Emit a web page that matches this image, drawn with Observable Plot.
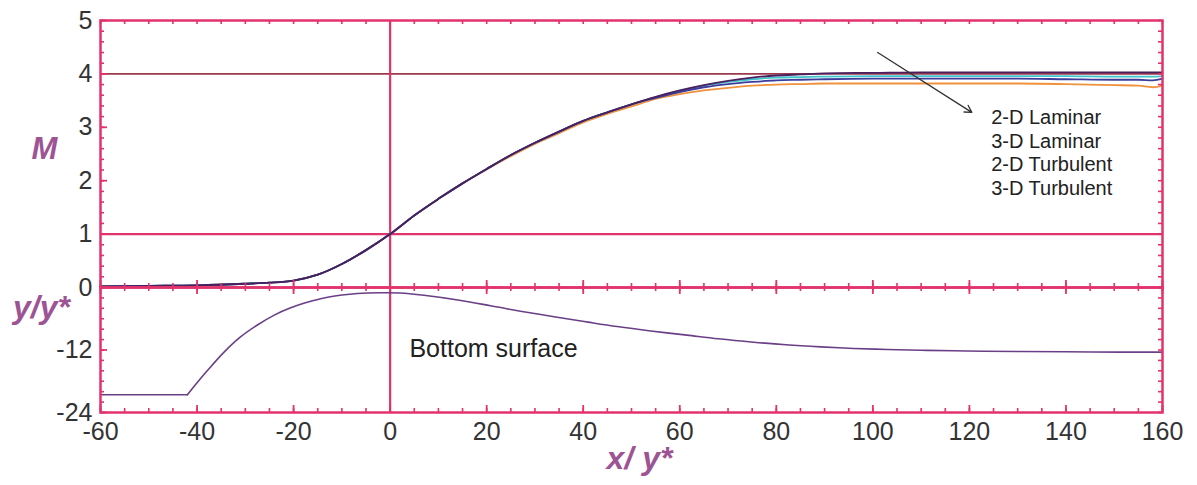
<!DOCTYPE html>
<html><head><meta charset="utf-8">
<script src="https://cdn.jsdelivr.net/npm/d3@7"></script>
<script src="https://cdn.jsdelivr.net/npm/@observablehq/plot@0.6"></script>
<style>
body{margin:0;background:#fff;}
#wrap{position:relative;width:1197px;height:485px;overflow:hidden;}
#wrap svg{position:absolute;left:0;}
</style></head><body><div id="wrap"></div>
<script>
// ---- data: Mach number along x/y* ----
const xM = [-60,-50,-40,-30,-25,-20,-15,-10,-5,0,5,10,15,20,25,30,35,40,45,50,55,60,65,70,75,80,85,90,100,110,120,130,140,150,155,158,160];
const m2DLaminar   = [0.02,0.03,0.04,0.07,0.09,0.13,0.24,0.44,0.70,1.00,1.35,1.66,1.95,2.21,2.46,2.69,2.89,3.09,3.25,3.39,3.53,3.62,3.69,3.74,3.78,3.80,3.81,3.82,3.82,3.82,3.82,3.82,3.81,3.79,3.78,3.75,3.78];
const m3DLaminar   = [0.02,0.03,0.04,0.07,0.09,0.13,0.24,0.44,0.70,1.00,1.35,1.66,1.95,2.22,2.48,2.71,2.92,3.12,3.28,3.43,3.56,3.68,3.78,3.85,3.90,3.93,3.94,3.95,3.96,3.96,3.96,3.96,3.96,3.95,3.95,3.95,3.96];
const m2DTurbulent = [0.02,0.03,0.04,0.07,0.09,0.13,0.24,0.44,0.70,1.00,1.35,1.66,1.95,2.22,2.48,2.71,2.92,3.12,3.28,3.43,3.55,3.66,3.75,3.81,3.85,3.88,3.89,3.90,3.91,3.91,3.91,3.91,3.90,3.89,3.89,3.88,3.91];
const m3DTurbulent = [0.02,0.03,0.04,0.07,0.09,0.13,0.24,0.44,0.70,1.00,1.35,1.66,1.95,2.22,2.48,2.71,2.92,3.12,3.28,3.43,3.57,3.69,3.79,3.87,3.93,3.97,3.99,4.01,4.02,4.03,4.03,4.03,4.03,4.03,4.03,4.03,4.03];
const seriesNames  = ["2-D Laminar","3-D Laminar","2-D Turbulent","3-D Turbulent"];
const seriesColors = ["#f0913c","#3fc3cc","#3c3c9c","#4a1f5e"];

// ---- data: bottom surface y/y* ----
const xSurf = [-60,-42,-40,-37.9,-34.5,-31,-27.5,-24,-20.6,-17,-13.7,-10,-6.8,-2,2,7,14,20.8,27,34.6,41,47,54,61.5,68,75.3,82,89.2,96,103,110,116.8,123,130.6,140,151.3,160];
const ySurf = [-20.6,-20.6,-18.3,-16.0,-12.5,-9.5,-7.2,-5.3,-3.9,-2.8,-2.0,-1.45,-1.15,-1.0,-1.05,-1.5,-2.4,-3.5,-4.55,-5.7,-6.65,-7.5,-8.35,-9.15,-9.85,-10.5,-11.0,-11.4,-11.7,-11.9,-12.05,-12.15,-12.25,-12.3,-12.35,-12.4,-12.4];

// ---- ticks ----
const xTickLabels = [-60,-40,-20,0,20,40,60,80,100,120,140,160];
const xMinor = d3.range(-60, 161, 5);
const mTickLabels = [0,1,2,3,4,5];
const mMinor = d3.range(0, 5.001, 0.2);
const sTickLabels = [-12,-24];
const sMinor = d3.range(-24, 0.001, 2);

// ---- reference lines & annotations ----
const mRefLines = [1];
const mTarget = [4];
const xRef = [0];
const legendPos = {x: 124.5, y: [3.18, 2.74, 2.30, 1.86]};
const arrow = [{x1: 101, y1: 4.40, x2: 120.5, y2: 3.28}];
const surfaceNote = {x: 4.0, y: -11.9, text: "Bottom surface"};

const PINK = "#e2336c", LAB = "#9c5494", TXT = "#333";
const W = 1197, ML = 100, MR = 35, FW = W - ML - MR;
const FONT = "'Liberation Sans', Arial, sans-serif";
const baseStyle = {fontFamily: FONT, fontSize: "24px", color: TXT, background: "transparent", overflow: "visible"};
const fmt = d => String(d);

// top panel
const H1 = 290, MT1 = 20, MB1 = 3, IH1 = H1 - MT1 - MB1;
const seriesArrays = [m2DLaminar, m3DLaminar, m2DTurbulent, m3DTurbulent];
const mRows = [];
seriesNames.forEach((s, i) => xM.forEach((x, j) => mRows.push({series: s, x, m: seriesArrays[i][j]})));

const topPlot = Plot.plot({
  width: W, height: H1, marginTop: MT1, marginBottom: MB1, marginLeft: ML, marginRight: MR,
  style: baseStyle,
  x: {domain: [-60, 160], axis: null},
  y: {domain: [0, 5], axis: null},
  color: {domain: seriesNames, range: seriesColors},
  marks: [
    Plot.ruleY(mTarget, {stroke: "#9a3a4c", strokeWidth: 1.6}),
    Plot.ruleY(mRefLines, {stroke: PINK, strokeWidth: 2.2}),
    Plot.ruleX(xRef, {stroke: PINK, strokeWidth: 2.2}),
    ...seriesNames.map(s => Plot.line(mRows.filter(r => r.series === s), {x: "x", y: "m", stroke: "series", strokeWidth: 1.8, curve: "monotone-x"})),
    Plot.frame({stroke: PINK, strokeWidth: 2.5}),
    Plot.tickX(xMinor, {x: d => d, stroke: PINK, strokeWidth: 1.6, insetTop: IH1 - 4, insetBottom: -4}),
    Plot.tickX(xTickLabels, {x: d => d, stroke: PINK, strokeWidth: 1.8, insetTop: IH1 - 7, insetBottom: -7}),
    Plot.tickX(xMinor, {x: d => d, stroke: PINK, strokeWidth: 1.6, insetBottom: IH1 - 4}),
    Plot.tickY(mMinor, {y: d => d, stroke: PINK, strokeWidth: 1.6, insetRight: FW - 4}),
    Plot.tickY(mTickLabels, {y: d => d, stroke: PINK, strokeWidth: 1.8, insetRight: FW - 7}),
    Plot.tickY(mMinor, {y: d => d, stroke: PINK, strokeWidth: 1.6, insetLeft: FW - 4}),
    Plot.axisY({ticks: mTickLabels, tickFormat: fmt, tickSize: 0, tickPadding: 8, fontSize: 25, fill: TXT, label: null}),
    Plot.text(["M"], {frameAnchor: "left", textAnchor: "middle", dx: -56, dy: -5, fontSize: 31, fontWeight: "bold", fontStyle: "italic", fill: LAB}),
    Plot.arrow(arrow, {x1: "x1", y1: "y1", x2: "x2", y2: "y2", stroke: "#333", strokeWidth: 1.3, headLength: 9, bend: 0}),
    Plot.text(seriesNames, {x: () => legendPos.x, y: (d, i) => legendPos.y[i], text: d => d, textAnchor: "start", fontSize: 20, fill: "#222"})
  ]
});
topPlot.style.top = "0px";

// bottom panel
const H2 = 205, MT2 = 7, MB2 = 73, IH2 = H2 - MT2 - MB2;
const surfRows = xSurf.map((x, i) => ({x, y: ySurf[i]}));
const bottomPlot = Plot.plot({
  width: W, height: H2, marginTop: MT2, marginBottom: MB2, marginLeft: ML, marginRight: MR,
  style: baseStyle,
  x: {domain: [-60, 160], axis: null},
  y: {domain: [-24, 0], axis: null},
  marks: [
    Plot.ruleX(xRef, {stroke: PINK, strokeWidth: 2.2}),
    Plot.line(surfRows.filter(d => d.x <= -42), {x: "x", y: "y", stroke: "#6a3f88", strokeWidth: 1.6}),
    Plot.line(surfRows.filter(d => d.x >= -42), {x: "x", y: "y", stroke: "#6a3f88", strokeWidth: 1.6, curve: "catmull-rom"}),
    Plot.frame({stroke: PINK, strokeWidth: 2.5}),
    Plot.tickX(xMinor, {x: d => d, stroke: PINK, strokeWidth: 1.6, insetTop: IH2 - 4}),
    Plot.tickX(xTickLabels, {x: d => d, stroke: PINK, strokeWidth: 1.8, insetTop: IH2 - 7}),
    Plot.tickY(sMinor, {y: d => d, stroke: PINK, strokeWidth: 1.6, insetRight: FW - 4}),
    Plot.tickY(sTickLabels, {y: d => d, stroke: PINK, strokeWidth: 1.8, insetRight: FW - 7}),
    Plot.tickY(sMinor, {y: d => d, stroke: PINK, strokeWidth: 1.6, insetLeft: FW - 4}),
    Plot.axisY({ticks: sTickLabels, tickFormat: fmt, tickSize: 0, tickPadding: 8, fontSize: 25, fill: TXT, label: null}),
    Plot.axisX({ticks: xTickLabels, tickFormat: fmt, tickSize: 0, tickPadding: 10, fontSize: 25, fill: TXT, label: null}),
    Plot.text([surfaceNote], {x: "x", y: "y", text: "text", textAnchor: "start", fontSize: 25, fill: "#222"}),
    Plot.text(["y/y*"], {frameAnchor: "left", textAnchor: "middle", dx: -59, dy: -42, fontSize: 32, fontWeight: "bold", fontStyle: "italic", fill: LAB}),
    Plot.text(["x/ y*"], {frameAnchor: "bottom", dx: 8, dy: 56, fontSize: 32, fontWeight: "bold", fontStyle: "italic", fill: LAB})
  ]
});
bottomPlot.style.top = "280px";

const wrap = document.getElementById("wrap");
wrap.appendChild(topPlot);
wrap.appendChild(bottomPlot);
</script></body></html>
